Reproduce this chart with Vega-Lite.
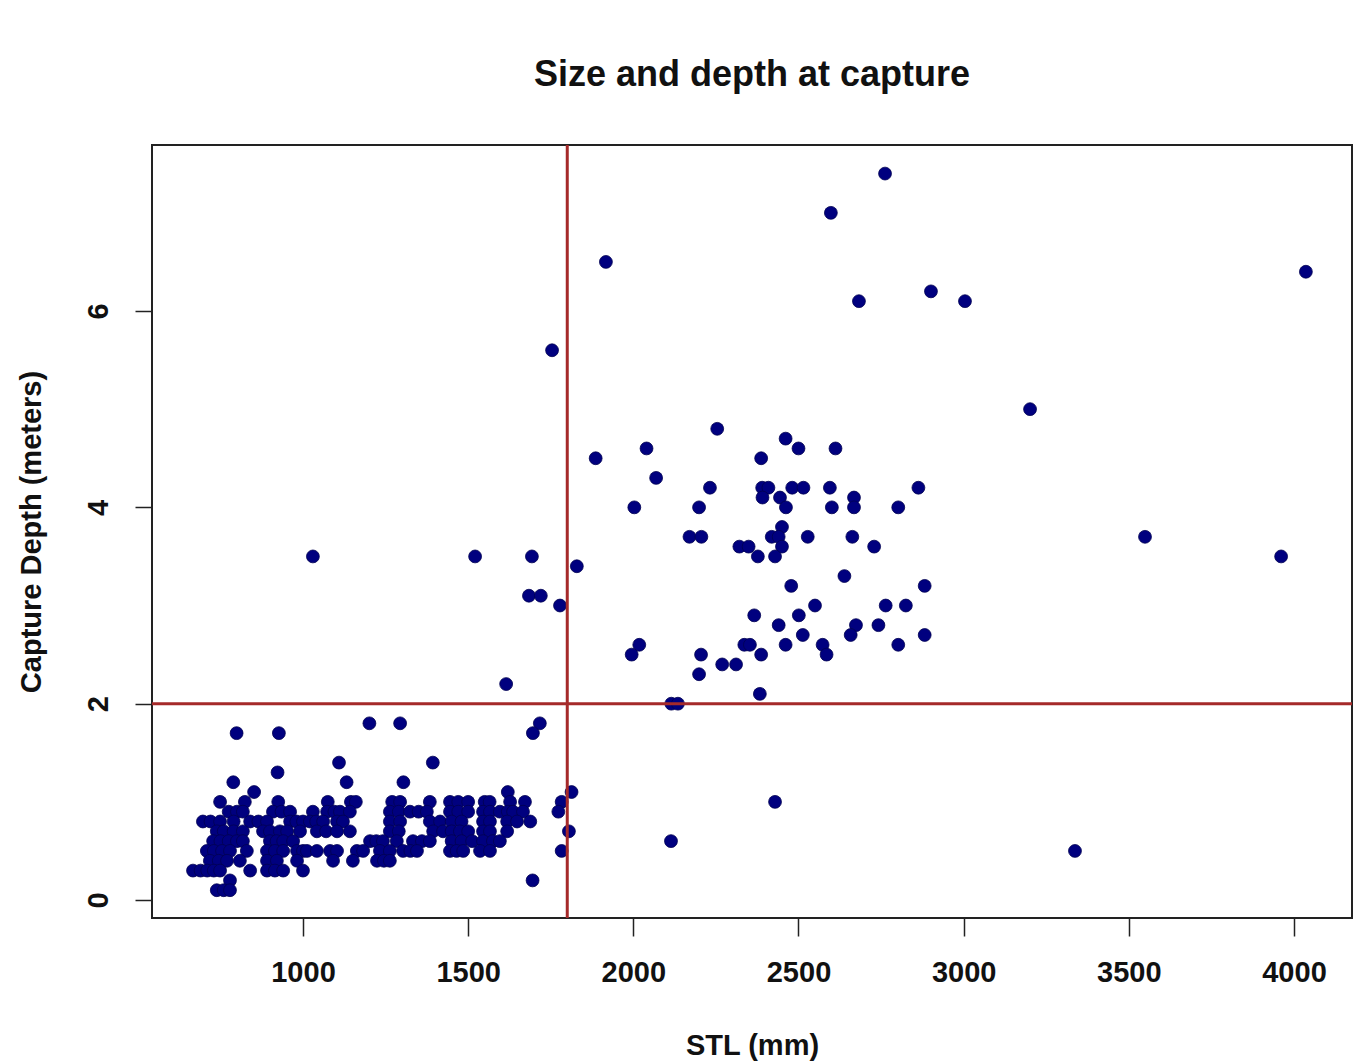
{
  "$schema": "https://vega.github.io/schema/vega-lite/v6.json",
  "width": 1200,
  "height": 773,
  "autosize": {"type": "none"},
  "padding": {"left": 152, "top": 145, "right": 13, "bottom": 143},
  "background": "white",
  "title": {"text": "Size and depth at capture", "font": "Liberation Sans", "fontSize": 36, "fontWeight": "bold", "color": "#111111", "anchor": "middle", "offset": 50},
  "config": {
    "view": {"stroke": "#222222", "strokeWidth": 2},
    "axis": {"domain": false, "grid": false, "ticks": true, "tickColor": "#222222", "tickWidth": 1.5, "labelFont": "Liberation Sans", "labelFontWeight": "bold", "labelFontSize": 29, "labelColor": "#111111", "titleFont": "Liberation Sans", "titleFontWeight": "bold", "titleFontSize": 29, "titleColor": "#111111"}
  },
  "datasets": {
    "fish": [
      {"stl":1917,"depth":6.5},{"stl":1754,"depth":5.6},{"stl":2598,"depth":7.0},{"stl":2762,"depth":7.4},{"stl":2683,"depth":6.1},{"stl":2901,"depth":6.2},{"stl":3004,"depth":6.1},{"stl":4036,"depth":6.4},{"stl":3201,"depth":5.0},{"stl":3549,"depth":3.7},{"stl":3961,"depth":3.5},{"stl":3337,"depth":0.5},{"stl":2429,"depth":1.0},{"stl":2114,"depth":0.6},{"stl":1030,"depth":3.5},{"stl":1521,"depth":3.5},{"stl":1693,"depth":3.5},{"stl":1684,"depth":3.1},{"stl":1720,"depth":3.1},{"stl":1778,"depth":3.0},{"stl":1829,"depth":3.4},{"stl":1615,"depth":2.2},
      {"stl":2254,"depth":4.8},{"stl":2461,"depth":4.7},{"stl":2500,"depth":4.6},{"stl":2612,"depth":4.6},{"stl":1886,"depth":4.5},{"stl":2040,"depth":4.6},{"stl":2387,"depth":4.5},{"stl":2069,"depth":4.3},{"stl":2232,"depth":4.2},{"stl":2390,"depth":4.2},{"stl":2409,"depth":4.2},{"stl":2391,"depth":4.1},{"stl":2481,"depth":4.2},{"stl":2515,"depth":4.2},{"stl":2595,"depth":4.2},{"stl":2863,"depth":4.2},{"stl":2444,"depth":4.1},{"stl":2462,"depth":4.0},{"stl":2668,"depth":4.1},{"stl":2668,"depth":4.0},{"stl":2601,"depth":4.0},{"stl":2802,"depth":4.0},{"stl":2003,"depth":4.0},{"stl":2199,"depth":4.0},
      {"stl":2170,"depth":3.7},{"stl":2206,"depth":3.7},{"stl":2450,"depth":3.8},{"stl":2419,"depth":3.7},{"stl":2440,"depth":3.7},{"stl":2450,"depth":3.6},{"stl":2528,"depth":3.7},{"stl":2663,"depth":3.7},{"stl":2729,"depth":3.6},{"stl":2321,"depth":3.6},{"stl":2349,"depth":3.6},{"stl":2377,"depth":3.5},{"stl":2429,"depth":3.5},{"stl":2639,"depth":3.3},{"stl":2478,"depth":3.2},{"stl":2882,"depth":3.2},{"stl":2550,"depth":3.0},{"stl":2764,"depth":3.0},{"stl":2825,"depth":3.0},{"stl":2366,"depth":2.9},{"stl":2501,"depth":2.9},{"stl":2440,"depth":2.8},{"stl":2674,"depth":2.8},{"stl":2742,"depth":2.8},{"stl":2513,"depth":2.7},{"stl":2658,"depth":2.7},{"stl":2882,"depth":2.7},{"stl":2018,"depth":2.6},{"stl":1995,"depth":2.5},{"stl":2336,"depth":2.6},{"stl":2353,"depth":2.6},{"stl":2461,"depth":2.6},{"stl":2573,"depth":2.6},{"stl":2585,"depth":2.5},{"stl":2802,"depth":2.6},{"stl":2387,"depth":2.5},{"stl":2205,"depth":2.5},{"stl":2269,"depth":2.4},{"stl":2311,"depth":2.4},{"stl":2199,"depth":2.3},{"stl":2383,"depth":2.1},{"stl":2115,"depth":2.0},{"stl":2135,"depth":2.0},
      {"stl":1717,"depth":1.8},{"stl":1696,"depth":1.7},{"stl":1695,"depth":0.2},{"stl":1813,"depth":1.1},{"stl":1783,"depth":1.0},{"stl":1773,"depth":0.9},{"stl":1805,"depth":0.7},{"stl":1783,"depth":0.5},
      {"stl":1201,"depth":1.8},{"stl":1294,"depth":1.8},{"stl":799,"depth":1.7},{"stl":927,"depth":1.7},{"stl":1109,"depth":1.4},{"stl":1393,"depth":1.4},{"stl":923,"depth":1.3},{"stl":789,"depth":1.2},{"stl":1132,"depth":1.2},{"stl":1304,"depth":1.2},{"stl":852,"depth":1.1},{"stl":1620,"depth":1.1},
      {"stl":749,"depth":1.0},{"stl":824,"depth":1.0},{"stl":925,"depth":1.0},{"stl":1075,"depth":1.0},{"stl":1145,"depth":1.0},{"stl":1160,"depth":1.0},{"stl":1270,"depth":1.0},{"stl":1294,"depth":1.0},{"stl":1384,"depth":1.0},{"stl":1445,"depth":1.0},{"stl":1470,"depth":1.0},{"stl":1500,"depth":1.0},{"stl":1550,"depth":1.0},{"stl":1565,"depth":1.0},{"stl":1627,"depth":1.0},{"stl":1672,"depth":1.0},
      {"stl":775,"depth":0.9},{"stl":800,"depth":0.9},{"stl":818,"depth":0.9},{"stl":909,"depth":0.9},{"stl":935,"depth":0.9},{"stl":961,"depth":0.9},{"stl":1030,"depth":0.9},{"stl":1073,"depth":0.9},{"stl":1095,"depth":0.9},{"stl":1112,"depth":0.9},{"stl":1142,"depth":0.9},{"stl":1263,"depth":0.9},{"stl":1290,"depth":0.9},{"stl":1324,"depth":0.9},{"stl":1350,"depth":0.9},{"stl":1375,"depth":0.9},{"stl":1445,"depth":0.9},{"stl":1470,"depth":0.9},{"stl":1500,"depth":0.9},{"stl":1545,"depth":0.9},{"stl":1566,"depth":0.9},{"stl":1596,"depth":0.9},{"stl":1620,"depth":0.9},{"stl":1636,"depth":0.9},{"stl":1666,"depth":0.9},
      {"stl":697,"depth":0.8},{"stl":720,"depth":0.8},{"stl":749,"depth":0.8},{"stl":790,"depth":0.8},{"stl":840,"depth":0.8},{"stl":865,"depth":0.8},{"stl":891,"depth":0.8},{"stl":961,"depth":0.8},{"stl":980,"depth":0.8},{"stl":1000,"depth":0.8},{"stl":1021,"depth":0.8},{"stl":1040,"depth":0.8},{"stl":1061,"depth":0.8},{"stl":1103,"depth":0.8},{"stl":1121,"depth":0.8},{"stl":1263,"depth":0.8},{"stl":1294,"depth":0.8},{"stl":1384,"depth":0.8},{"stl":1415,"depth":0.8},{"stl":1450,"depth":0.8},{"stl":1480,"depth":0.8},{"stl":1545,"depth":0.8},{"stl":1566,"depth":0.8},{"stl":1618,"depth":0.8},{"stl":1648,"depth":0.8},{"stl":1688,"depth":0.8},
      {"stl":739,"depth":0.7},{"stl":760,"depth":0.7},{"stl":790,"depth":0.7},{"stl":818,"depth":0.7},{"stl":879,"depth":0.7},{"stl":900,"depth":0.7},{"stl":930,"depth":0.7},{"stl":952,"depth":0.7},{"stl":991,"depth":0.7},{"stl":1042,"depth":0.7},{"stl":1070,"depth":0.7},{"stl":1103,"depth":0.7},{"stl":1142,"depth":0.7},{"stl":1263,"depth":0.7},{"stl":1290,"depth":0.7},{"stl":1394,"depth":0.7},{"stl":1424,"depth":0.7},{"stl":1450,"depth":0.7},{"stl":1475,"depth":0.7},{"stl":1500,"depth":0.7},{"stl":1545,"depth":0.7},{"stl":1566,"depth":0.7},{"stl":1618,"depth":0.7},
      {"stl":728,"depth":0.6},{"stl":750,"depth":0.6},{"stl":775,"depth":0.6},{"stl":800,"depth":0.6},{"stl":818,"depth":0.6},{"stl":900,"depth":0.6},{"stl":920,"depth":0.6},{"stl":940,"depth":0.6},{"stl":970,"depth":0.6},{"stl":1203,"depth":0.6},{"stl":1222,"depth":0.6},{"stl":1242,"depth":0.6},{"stl":1284,"depth":0.6},{"stl":1333,"depth":0.6},{"stl":1360,"depth":0.6},{"stl":1384,"depth":0.6},{"stl":1450,"depth":0.6},{"stl":1480,"depth":0.6},{"stl":1512,"depth":0.6},{"stl":1545,"depth":0.6},{"stl":1575,"depth":0.6},{"stl":1596,"depth":0.6},
      {"stl":709,"depth":0.5},{"stl":730,"depth":0.5},{"stl":755,"depth":0.5},{"stl":779,"depth":0.5},{"stl":830,"depth":0.5},{"stl":891,"depth":0.5},{"stl":915,"depth":0.5},{"stl":940,"depth":0.5},{"stl":982,"depth":0.5},{"stl":1000,"depth":0.5},{"stl":1012,"depth":0.5},{"stl":1042,"depth":0.5},{"stl":1082,"depth":0.5},{"stl":1103,"depth":0.5},{"stl":1163,"depth":0.5},{"stl":1182,"depth":0.5},{"stl":1233,"depth":0.5},{"stl":1263,"depth":0.5},{"stl":1303,"depth":0.5},{"stl":1325,"depth":0.5},{"stl":1345,"depth":0.5},{"stl":1445,"depth":0.5},{"stl":1465,"depth":0.5},{"stl":1485,"depth":0.5},{"stl":1536,"depth":0.5},{"stl":1566,"depth":0.5},
      {"stl":718,"depth":0.4},{"stl":745,"depth":0.4},{"stl":770,"depth":0.4},{"stl":809,"depth":0.4},{"stl":891,"depth":0.4},{"stl":921,"depth":0.4},{"stl":982,"depth":0.4},{"stl":1091,"depth":0.4},{"stl":1151,"depth":0.4},{"stl":1224,"depth":0.4},{"stl":1245,"depth":0.4},{"stl":1263,"depth":0.4},
      {"stl":667,"depth":0.3},{"stl":690,"depth":0.3},{"stl":710,"depth":0.3},{"stl":730,"depth":0.3},{"stl":749,"depth":0.3},{"stl":840,"depth":0.3},{"stl":891,"depth":0.3},{"stl":915,"depth":0.3},{"stl":940,"depth":0.3},{"stl":1000,"depth":0.3},
      {"stl":779,"depth":0.2},{"stl":739,"depth":0.1},{"stl":760,"depth":0.1},{"stl":779,"depth":0.1}
    ],
    "cutStl": [{"stl": 1800}],
    "cutDepth": [{"depth": 2}]
  },
  "layer": [
    {
      "data": {"name": "fish"},
      "mark": {"type": "circle", "size": 165, "color": "#00007f", "opacity": 1, "stroke": "#000050", "strokeWidth": 0.8},
      "encoding": {
        "x": {"field": "stl", "type": "quantitative", "title": "STL (mm)",
              "scale": {"domain": [542.9, 4175.6], "nice": false, "zero": false},
              "axis": {"values": [1000, 1500, 2000, 2500, 3000, 3500, 4000], "format": "d", "tickSize": 18, "labelPadding": 22, "titlePadding": 44, "labelFlush": false}},
        "y": {"field": "depth", "type": "quantitative", "title": "Capture Depth (meters)",
              "scale": {"domain": [-0.183, 7.691], "nice": false, "zero": false},
              "axis": {"values": [0, 2, 4, 6], "format": "d", "tickSize": 17, "labelAngle": -90, "labelPadding": 22, "titlePadding": 38, "labelFlush": false}}
      }
    },
    {
      "data": {"name": "cutStl"},
      "mark": {"type": "rule", "color": "#a52a2a", "strokeWidth": 3},
      "encoding": {"x": {"field": "stl", "type": "quantitative"}}
    },
    {
      "data": {"name": "cutDepth"},
      "mark": {"type": "rule", "color": "#a52a2a", "strokeWidth": 3},
      "encoding": {"y": {"field": "depth", "type": "quantitative"}}
    }
  ]
}
